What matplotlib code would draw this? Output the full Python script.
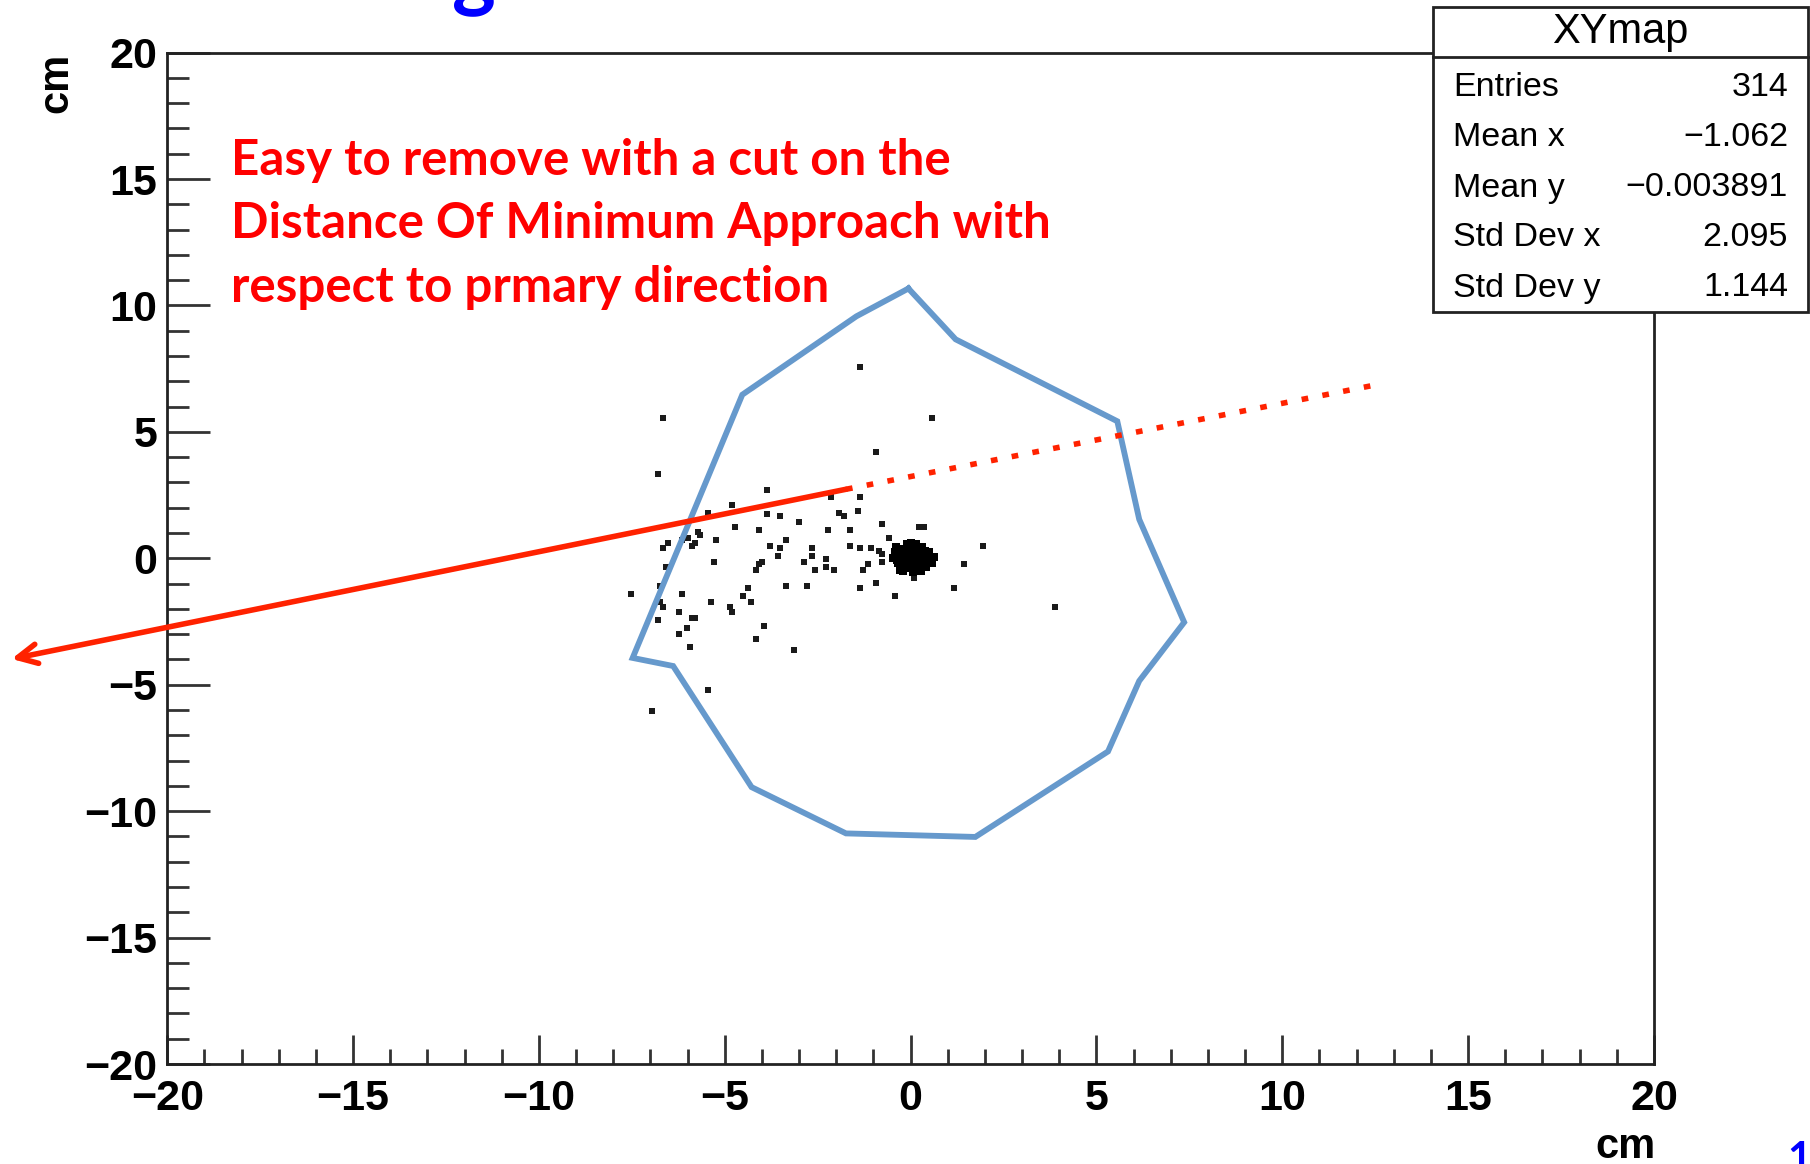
import numpy as np
import matplotlib.pyplot as plt
from matplotlib.patches import Rectangle
from matplotlib.lines import Line2D

# hit positions (cm), spread-out hits
hits_x = [-1.36, -6.66, 0.58, -0.92, -6.81, -3.87, -2.14, -1.36, -4.80, -5.44,
          -3.87, -3.51, -1.93, -1.79, -1.43, -3.01, -4.73, -4.08, -2.22, -1.64,
          -0.78, 0.22, 0.37, -5.73, -5.66, -5.98, -6.16, -6.52, -6.66, -5.80,
          -5.88, -5.23, -3.36, -3.79, -3.51, -2.65, -1.64, -1.36, -1.07, -0.57,
          -0.85, -0.78, -3.58, -2.65, -2.86, -2.29, -5.30, -4.01, -4.08, -4.15,
          -2.58, -2.29, -2.07, -1.28, -1.14, -0.78, -6.59, 1.95, 1.44, -3.36,
          -2.79, -1.36, -0.92, -0.42, 1.16, -6.74, -7.53, -6.16, -4.37, -4.51,
          -4.30, -5.37, -4.87, -4.80, -6.74, -6.66, -6.23, -5.88, -5.80, -6.81,
          -6.02, -6.23, -3.94, -4.15, -5.95, -3.15, 3.88, -5.44, -6.95, 0.08,
          0.01]
hits_y = [7.57, 5.56, 5.56, 4.19, 3.35, 2.71, 2.41, 2.41, 2.10, 1.80,
          1.77, 1.67, 1.78, 1.67, 1.87, 1.45, 1.24, 1.13, 1.13, 1.13,
          1.34, 1.24, 1.24, 1.03, 0.92, 0.82, 0.71, 0.60, 0.39, 0.60,
          0.50, 0.71, 0.71, 0.50, 0.39, 0.39, 0.50, 0.39, 0.39, 0.82,
          0.29, 0.18, 0.08, 0.08, -0.13, -0.03, -0.13, -0.13, -0.24, -0.45,
          -0.45, -0.34, -0.45, -0.45, -0.24, -0.13, -0.34, 0.50, -0.24, -1.08,
          -1.08, -1.19, -0.98, -1.51, -1.19, -1.08, -1.40, -1.40, -1.19, -1.51,
          -1.72, -1.72, -1.93, -2.14, -1.72, -1.93, -2.14, -2.35, -2.35, -2.45,
          -2.77, -2.98, -2.67, -3.19, -3.51, -3.61, -1.93, -5.20, -6.04, -0.77,
          0.60]

# dense core around the beam axis
core_x = [0.00, 0.10, -0.10, 0.20, -0.20, 0.05, -0.05, 0.15, -0.15, 0.30,
          -0.30, 0.25, -0.25, 0.00, 0.10, -0.10, 0.35, -0.35, 0.45, -0.42,
          0.55, 0.20, -0.20, 0.05, 0.00, 0.12, -0.08, 0.28, -0.28, 0.40,
          0.62, -0.40, 0.15, -0.12, 0.30, -0.48, 0.50, 0.08, -0.02, 0.22,
          0.18, -0.18, 0.38, -0.32, 0.42, 0.02, 0.32, -0.22, 0.48, -0.05,
          0.12, 0.25, -0.15, 0.35, 0.58, -0.38, 0.05, 0.20, -0.25, 0.40]
core_y = [0.00, 0.10, -0.10, 0.05, 0.15, -0.25, 0.30, -0.20, -0.30, 0.20,
          0.00, -0.35, 0.35, 0.45, -0.45, 0.55, -0.10, -0.20, 0.10, 0.25,
          0.00, 0.40, -0.50, -0.55, 0.60, 0.25, -0.40, -0.50, -0.45, -0.35,
          0.05, 0.45, 0.55, 0.05, 0.45, 0.00, 0.25, -0.15, 0.20, -0.05,
          -0.05, 0.00, 0.30, 0.20, -0.20, 0.38, -0.25, -0.15, -0.10, -0.28,
          0.32, 0.15, 0.22, 0.08, -0.18, -0.08, 0.12, -0.32, 0.05, 0.15]

# hand-drawn acceptance contour (cm)
contour_x = [-0.06, -1.46, -4.53, -7.48, -6.39, -4.28, -1.74, 1.74, 5.31, 6.15,
             7.36, 6.15, 5.56, 1.21, -0.06]
contour_y = [10.67, 9.57, 6.47, -3.94, -4.26, -9.05, -10.88, -11.02, -7.64, -4.85,
             -2.53, 1.54, 5.42, 8.66, 10.67]

# primary direction: arrow start/tip and dotted extension end
dir_start = (-1.74, 2.73)
dir_tip = (-24.19, -3.98)
dir_ext = (12.45, 6.84)

stat_names = ["Entries", "Mean x", "Mean y", "Std Dev x", "Std Dev y"]
stat_values = ["314", "\u22121.062", "\u22120.003891", "2.095", "1.144"]

W, H = 1810, 1164
fig = plt.figure(figsize=(W / 100, H / 100), dpi=100)
ax = fig.add_axes([167.3 / W, 1 - 1064 / H, (1654 - 167.3) / W, (1064 - 52.6) / H])

ax.set_xlim(-20, 20)
ax.set_ylim(-20, 20)
ax.set_xticks(np.arange(-20, 21, 5))
ax.set_yticks(np.arange(-20, 21, 5))
ax.set_xticks(np.arange(-20, 21, 1), minor=True)
ax.set_yticks(np.arange(-20, 21, 1), minor=True)
for sp in ax.spines.values():
    sp.set_linewidth(2.0)
    sp.set_color('#222222')
ax.tick_params(axis='both', which='both', direction='in', top=False, right=False,
               width=2.0, color='#333333')
ax.tick_params(axis='x', which='major', length=21, pad=11)
ax.tick_params(axis='x', which='minor', length=11)
ax.tick_params(axis='y', which='major', length=31, pad=7)
ax.tick_params(axis='y', which='minor', length=16)
for lab in ax.get_xticklabels() + ax.get_yticklabels():
    lab.set_fontfamily('Liberation Sans')
    lab.set_fontweight('bold')
    lab.set_fontsize(31)

ax.plot(hits_x, hits_y, 's', ms=5, color='#1a1a1a', mew=0)
ax.plot(core_x, core_y, 's', ms=5.5, color='#000000', mew=0)

ax.plot(contour_x, contour_y, color='#6699cc', lw=4.2, solid_joinstyle='miter')

ax.annotate('', xy=dir_tip, xytext=dir_start, annotation_clip=False,
            arrowprops=dict(arrowstyle='->', color='#ff2200', lw=4.0,
                            mutation_scale=35, shrinkA=0, shrinkB=0))
ax.plot([dir_start[0], dir_ext[0]], [dir_start[1], dir_ext[1]], color='#ff2200',
        lw=4.0, linestyle=(0, (1.2, 2.6)), dash_capstyle='butt')

fig.text(1656 / W, 1 - 1158 / H, 'cm', ha='right', va='baseline',
         family='Liberation Sans', weight='bold', fontsize=30)
fig.text(36 / W, 1 - 53 / H, 'cm', ha='left', va='top', rotation=90,
         family='Liberation Sans', weight='bold', fontsize=30)

fig.text(231 / W, 1 - 138 / H,
         'Easy to remove with a cut on the\nDistance Of Minimum Approach with\nrespect to prmary direction',
         ha='left', va='top', color='#ff0000', family='Lato', weight='bold',
         fontsize=35.5, linespacing=1.5)

# stats box
bx0, bx1, by0, by1 = 1433, 1808, 7, 312
fig.patches.append(Rectangle((bx0 / W, 1 - by1 / H), (bx1 - bx0) / W, (by1 - by0) / H,
                             transform=fig.transFigure, facecolor='white',
                             edgecolor='#222222', lw=2.0, zorder=5))
fig.lines.append(Line2D([bx0 / W, bx1 / W], [1 - 57 / H, 1 - 57 / H],
                        transform=fig.transFigure, color='#222222', lw=2.0, zorder=6))
fig.text((bx0 + bx1) / 2 / W, 1 - 32 / H, 'XYmap', ha='center', va='center',
         family='Liberation Sans', fontsize=30, zorder=7)
for i, (name, val) in enumerate(zip(stat_names, stat_values)):
    yc = 1 - (88 + 50 * i) / H
    fig.text(1453 / W, yc, name, ha='left', va='center',
             family='Liberation Sans', fontsize=24.5, zorder=7)
    fig.text(1788 / W, yc, val, ha='right', va='center',
             family='Liberation Sans', fontsize=24.5, zorder=7)

# slide title descender and page number, cut by the page edge
fig.text(452 / W, 1 - 1 / H, 'g', ha='left', va='baseline', color='#0000ff',
         family='Lato', weight='bold', fontsize=60)
fig.text(1787 / W, 1 - 1172 / H, '1', ha='left', va='baseline', color='#0000ff',
         family='Lato', weight='bold', fontsize=30)

fig.savefig('out.png', dpi=100)
